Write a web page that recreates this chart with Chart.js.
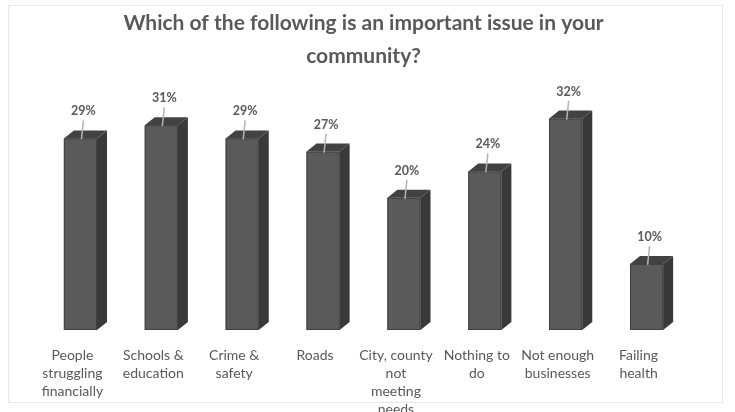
<!DOCTYPE html>
<html>
<head>
<meta charset="utf-8">
<script src="https://cdn.jsdelivr.net/npm/chart.js@4.4.1/dist/chart.umd.min.js"></script>
<style>
  html, body { margin: 0; padding: 0; background: #ffffff; }
  #wrap { width: 735px; height: 412px; }
</style>
</head>
<body>
<div id="wrap"><canvas id="issueChart" width="735" height="412"></canvas></div>
<script>
const titleLines = ['Which of the following is an important issue in your', 'community?'];
const issueLabels = [
    ['People', 'struggling', 'financially'],
    ['Schools &', 'education'],
    ['Crime &', 'safety'],
    ['Roads'],
    ['City, county', 'not', 'meeting', 'needs'],
    ['Nothing to', 'do'],
    ['Not enough', 'businesses'],
    ['Failing', 'health']
];
const issueShares = [29, 31, 29, 27, 20, 24, 32, 10];

const textGray = '#595959';
const depthX = 10;
const depthY = 8;

// light frame round the whole chart
const framePlugin = {
    id: 'frame',
    beforeDraw(chart) {
        const ctx = chart.ctx;
        ctx.save();
        ctx.fillStyle = '#ffffff';
        ctx.fillRect(0, 0, chart.width, chart.height);
        ctx.strokeStyle = '#e8e8e8';
        ctx.lineWidth = 1;
        ctx.strokeRect(8.5, 5.5, 714, 397);
        ctx.restore();
    }
};

// side and top faces so the bars look like blocks
const blockPlugin = {
    id: 'blocks',
    afterDatasetsDraw(chart) {
        const ctx = chart.ctx;
        const meta = chart.getDatasetMeta(0);
        ctx.save();
        meta.data.forEach(bar => {
            const left = bar.x - bar.width / 2;
            const right = bar.x + bar.width / 2;
            const top = bar.y;
            const base = bar.base;

            ctx.fillStyle = '#393939';
            ctx.beginPath();
            ctx.moveTo(right, top);
            ctx.lineTo(right + depthX, top - depthY);
            ctx.lineTo(right + depthX, base - depthY);
            ctx.lineTo(right, base);
            ctx.closePath();
            ctx.fill();

            ctx.fillStyle = '#424242';
            ctx.beginPath();
            ctx.moveTo(left, top);
            ctx.lineTo(left + depthX, top - depthY);
            ctx.lineTo(right + depthX, top - depthY);
            ctx.lineTo(right, top);
            ctx.closePath();
            ctx.fill();

            // thin dark edge round the front face
            ctx.strokeStyle = '#404040';
            ctx.lineWidth = 1;
            ctx.strokeRect(left + 0.5, top + 0.5, bar.width - 1, base - top - 1);
        });
        ctx.restore();
    }
};

// percentage callouts with a short leader line
const calloutPlugin = {
    id: 'callouts',
    afterDatasetsDraw(chart) {
        const ctx = chart.ctx;
        const meta = chart.getDatasetMeta(0);
        const values = chart.data.datasets[0].data;
        ctx.save();
        meta.data.forEach((bar, i) => {
            ctx.strokeStyle = '#b4b4b4';
            ctx.lineWidth = 1.5;
            ctx.beginPath();
            ctx.moveTo(bar.x + 3, bar.y - 18);
            ctx.lineTo(bar.x + 1, bar.y + 1);
            ctx.stroke();

            ctx.fillStyle = textGray;
            ctx.font = 'bold 12.5px Lato';
            ctx.textAlign = 'center';
            ctx.textBaseline = 'middle';
            ctx.fillText(values[i] + '%', bar.x + 3, bar.y - 27);
        });
        ctx.restore();
    }
};

new Chart(document.getElementById('issueChart'), {
    type: 'bar',
    data: {
        labels: issueLabels,
        datasets: [{
            data: issueShares,
            backgroundColor: '#5a5a5a',
            borderWidth: 0,
            barPercentage: 0.41,
            categoryPercentage: 1
        }]
    },
    options: {
        responsive: false,
        animation: false,
        layout: {
            padding: { left: 40, right: 48, top: 0, bottom: 0 }
        },
        plugins: {
            legend: { display: false },
            tooltip: { enabled: false },
            title: {
                display: true,
                text: titleLines,
                color: textGray,
                font: { family: 'Lato', size: 21, weight: 'bold', lineHeight: 1.57 },
                padding: { top: 7, bottom: 6 }
            }
        },
        scales: {
            x: {
                grid: { display: false, drawTicks: false },
                border: { display: false },
                ticks: {
                    color: textGray,
                    font: { family: 'Lato', size: 14, lineHeight: 1.27 },
                    padding: 17,
                    labelOffset: -8,
                    maxRotation: 0,
                    autoSkip: false
                },
                afterFit(scale) {
                    scale.height = 82;
                }
            },
            y: {
                display: false,
                min: 0,
                max: 38
            }
        }
    },
    plugins: [framePlugin, blockPlugin, calloutPlugin]
});
</script>
</body>
</html>
